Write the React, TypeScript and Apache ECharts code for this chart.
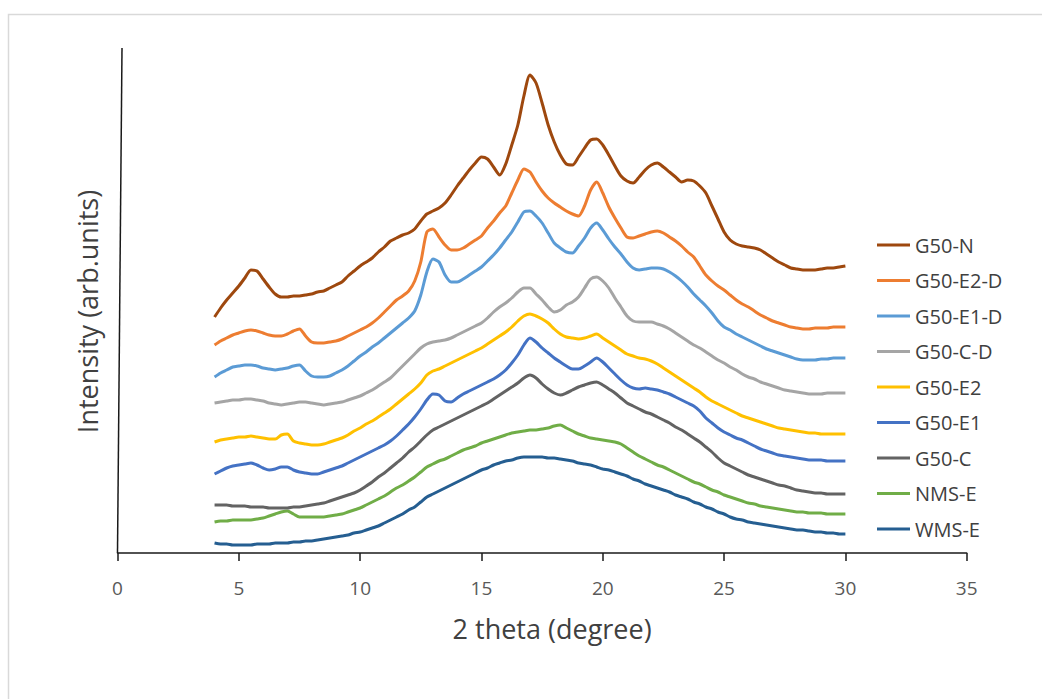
import React, { useEffect, useRef } from "react";
import * as echarts from "echarts";

// Diffraction angle (2θ, degrees) of every sample point
const twoTheta = [
  4, 4.25, 4.5, 4.75, 5, 5.25, 5.5, 5.75, 6, 6.25, 6.5, 6.75, 7, 7.25, 7.5, 7.75,
  8, 8.25, 8.5, 8.75, 9, 9.25, 9.5, 9.75, 10, 10.25, 10.5, 10.75, 11, 11.25, 11.5, 11.75,
  12, 12.25, 12.5, 12.75, 13, 13.25, 13.5, 13.75, 14, 14.25, 14.5, 14.75, 15, 15.25, 15.5, 15.75,
  16, 16.25, 16.5, 16.75, 17, 17.25, 17.5, 17.75, 18, 18.25, 18.5, 18.75, 19, 19.25, 19.5, 19.75,
  20, 20.25, 20.5, 20.75, 21, 21.25, 21.5, 21.75, 22, 22.25, 22.5, 22.75, 23, 23.25, 23.5, 23.75,
  24, 24.25, 24.5, 24.75, 25, 25.25, 25.5, 25.75, 26, 26.25, 26.5, 26.75, 27, 27.25, 27.5, 27.75,
  28, 28.25, 28.5, 28.75, 29, 29.25, 29.5, 29.75, 30,
];

// Stacked (offset) intensities, arbitrary units
const g50N = [
  236, 245, 253, 260, 267, 275, 283, 282, 274, 266, 259, 256, 256, 257, 257, 258,
  259, 261, 262, 265, 268, 271, 277, 282, 287, 291, 295, 301, 306, 312, 315, 318,
  320, 324, 332, 339, 342, 345, 350, 358, 367, 375, 383, 390, 396, 394, 386, 378,
  389, 408, 428, 457, 478, 470, 450, 428, 411, 398, 389, 388, 396, 405, 413, 414,
  408, 398, 387, 377, 372, 370, 376, 383, 388, 390, 386, 381, 376, 371, 373, 372,
  367, 360, 347, 334, 321, 313, 309, 307, 306, 305, 303, 299, 295, 291, 288, 285,
  284, 283, 283, 283, 284, 285, 285, 286, 287,
];
const g50E2D = [
  208, 212, 215, 218, 220, 222, 223, 222, 220, 218, 217, 217, 219, 222, 224, 217,
  211, 210, 210, 211, 212, 214, 217, 220, 223, 226, 230, 235, 241, 247, 253, 257,
  262, 272, 291, 321, 324, 316, 308, 303, 303, 305, 309, 313, 317, 325, 332, 340,
  347, 360, 373, 384, 381, 371, 362, 355, 350, 346, 342, 339, 337, 347, 363, 371,
  360, 346, 335, 325, 316, 315, 317, 319, 321, 322, 320, 316, 312, 307, 301, 296,
  287, 278, 272, 267, 263, 258, 253, 249, 246, 242, 238, 235, 232, 230, 228, 226,
  225, 224, 224, 225, 225, 225, 226, 226, 226,
];
const g50E1D = [
  176, 180, 183, 186, 187, 188, 188, 187, 185, 184, 183, 184, 185, 187, 188, 182,
  177, 176, 176, 177, 180, 183, 187, 192, 197, 201, 206, 210, 215, 220, 225, 230,
  235, 242, 258, 281, 294, 291, 278, 271, 271, 274, 278, 282, 286, 292, 298, 305,
  313, 321, 331, 341, 342, 337, 330, 320, 310, 305, 301, 300, 307, 315, 325, 330,
  323, 314, 306, 299, 291, 285, 283, 284, 285, 285, 284, 281, 277, 272, 266, 259,
  253, 247, 240, 232, 226, 223, 219, 216, 213, 210, 207, 204, 202, 200, 198, 196,
  194, 193, 193, 193, 194, 194, 195, 195, 195,
];
const g50CD = [
  150, 151, 152, 153, 153, 154, 154, 153, 152, 150, 149, 148, 149, 150, 151, 151,
  150, 149, 148, 149, 150, 151, 153, 155, 157, 160, 163, 167, 171, 175, 181, 187,
  193, 199, 205, 209, 211, 212, 213, 215, 218, 221, 224, 227, 230, 235, 241, 246,
  250, 255, 261, 265, 265, 259, 253, 246, 241, 243, 248, 251, 256, 265, 274, 276,
  272, 265, 255, 246, 237, 232, 231, 231, 231, 229, 227, 224, 220, 216, 212, 208,
  205, 201, 197, 193, 190, 186, 183, 179, 176, 174, 171, 169, 167, 165, 163, 162,
  161, 160, 159, 159, 159, 160, 160, 160, 160,
];
const g50E2 = [
  111, 113, 114, 115, 116, 116, 117, 116, 115, 114, 114, 118, 119, 112, 110, 109,
  108, 108, 109, 111, 113, 115, 118, 122, 125, 129, 132, 136, 140, 144, 149, 154,
  159, 164, 170, 178, 182, 184, 187, 190, 193, 196, 199, 202, 205, 209, 213, 217,
  221, 226, 232, 237, 239, 237, 234, 230, 224, 219, 216, 215, 214, 215, 217, 219,
  215, 211, 207, 203, 199, 197, 195, 194, 192, 189, 185, 181, 177, 173, 169, 165,
  161, 156, 152, 149, 146, 143, 140, 137, 135, 133, 131, 129, 127, 125, 124, 123,
  122, 121, 120, 120, 119, 119, 119, 119, 119,
];
const g50E1 = [
  79, 82, 85, 87, 88, 89, 90, 88, 85, 83, 84, 86, 86, 83, 81, 80,
  79, 79, 81, 83, 85, 87, 90, 93, 96, 99, 102, 105, 108, 112, 117, 123,
  129, 136, 144, 153, 159, 158, 152, 151, 155, 159, 162, 165, 168, 171, 174, 178,
  183, 190, 198, 208, 215, 211, 205, 200, 195, 191, 187, 184, 184, 187, 191, 195,
  191, 185, 179, 173, 168, 165, 164, 165, 164, 163, 161, 159, 156, 153, 150, 147,
  142, 135, 130, 125, 121, 118, 115, 113, 110, 107, 104, 102, 100, 98, 97, 96,
  95, 94, 93, 93, 93, 92, 92, 92, 92,
];
const g50C = [
  48, 48, 48, 47, 47, 47, 46, 46, 46, 45, 45, 45, 45, 46, 46, 47,
  48, 49, 50, 52, 54, 56, 58, 60, 63, 67, 71, 76, 80, 85, 90, 95,
  101, 106, 112, 118, 123, 126, 129, 132, 135, 138, 141, 144, 147, 150, 154, 158,
  162, 166, 170, 175, 178, 175, 169, 164, 160, 158, 160, 163, 166, 168, 170, 171,
  168, 164, 160, 155, 150, 147, 144, 141, 139, 136, 133, 130, 126, 123, 119, 115,
  111, 106, 101, 95, 90, 87, 84, 81, 78, 76, 74, 72, 70, 68, 67, 65,
  63, 62, 61, 60, 60, 59, 59, 59, 59,
];
const nmsE = [
  31, 32, 32, 33, 33, 33, 33, 34, 35, 37, 39, 41, 42, 39, 36, 36,
  36, 36, 36, 37, 38, 39, 41, 43, 45, 48, 51, 54, 57, 61, 65, 68,
  72, 76, 81, 86, 89, 92, 94, 97, 100, 103, 105, 107, 110, 112, 114, 116,
  118, 120, 121, 122, 123, 123, 124, 125, 127, 128, 125, 122, 119, 117, 115, 114,
  113, 112, 111, 109, 105, 101, 97, 94, 91, 88, 86, 83, 80, 77, 74, 71,
  69, 66, 63, 61, 58, 56, 54, 52, 50, 49, 47, 46, 45, 44, 43, 42,
  41, 41, 40, 40, 40, 39, 39, 39, 39,
];
const wmsE = [
  10, 9, 9, 8, 8, 8, 8, 9, 9, 9, 10, 10, 10, 11, 11, 12,
  12, 13, 14, 15, 16, 17, 18, 20, 21, 23, 25, 27, 30, 33, 36, 39,
  43, 46, 51, 56, 59, 62, 65, 68, 71, 74, 77, 80, 83, 85, 88, 90,
  92, 93, 95, 96, 96, 96, 96, 95, 95, 94, 93, 92, 90, 89, 88, 86,
  84, 83, 81, 79, 77, 74, 72, 69, 67, 65, 63, 61, 58, 56, 54, 51,
  49, 46, 44, 41, 39, 36, 34, 33, 31, 30, 29, 28, 27, 26, 25, 24,
  23, 23, 22, 21, 21, 20, 20, 19, 19,
];

const legendOrder = [
  "G50-N", "G50-E2-D", "G50-E1-D", "G50-C-D", "G50-E2", "G50-E1", "G50-C", "NMS-E", "WMS-E",
];
const seriesValues = [g50N, g50E2D, g50E1D, g50CD, g50E2, g50E1, g50C, nmsE, wmsE];
const seriesColors = [
  "#9E480E", "#ED7D31", "#5B9BD5", "#A5A5A5", "#FFC000", "#4472C4", "#636363", "#70AD47", "#255E91",
];

const xTicks = { min: 0, max: 35, interval: 5 };

const FONT = "'Open Sans', 'Noto Sans', sans-serif";

export default function App() {
  const ref = useRef<HTMLDivElement>(null);

  useEffect(() => {
    if (!ref.current) return;
    const chart = echarts.init(ref.current, null, { renderer: "svg" });

    const series = legendOrder
      .map((name, i) => ({
        name,
        type: "line",
        data: twoTheta.map((t, k) => [t, seriesValues[i][k]]),
        showSymbol: false,
        symbol: "none",
        smooth: 0.25,
        lineStyle: { color: seriesColors[i], width: 3 },
        itemStyle: { color: seriesColors[i] },
        z: 2,
      }))
      .reverse();

    chart.setOption({
      animation: false,
      backgroundColor: "#ffffff",
      textStyle: { fontFamily: FONT },
      grid: { left: 117.5, right: 75.3, top: 48, bottom: 146, containLabel: false },
      xAxis: {
        type: "value",
        min: xTicks.min,
        max: xTicks.max,
        interval: xTicks.interval,
        name: "2 theta (degree)",
        nameLocation: "middle",
        nameGap: 62,
        nameTextStyle: {
          fontSize: 27,
          color: "#404040",
          fontFamily: FONT,
          padding: [0, 0, 0, 20],
        },
        axisLine: { show: true, lineStyle: { color: "#1a1a1a", width: 1.5 } },
        axisTick: { show: true, inside: false, length: 8, lineStyle: { color: "#1a1a1a", width: 1.5 } },
        axisLabel: { fontSize: 19, color: "#595959", margin: 25, fontFamily: FONT },
        splitLine: { show: false },
      },
      yAxis: {
        type: "value",
        min: 0,
        max: 505,
        name: "Intensity (arb.units)",
        nameLocation: "middle",
        nameGap: 17,
        nameRotate: 90,
        nameTextStyle: {
          fontSize: 27,
          color: "#404040",
          fontFamily: FONT,
          padding: [0, 22, 0, 0],
        },
        axisLine: { show: false },
        axisTick: { show: false },
        axisLabel: { show: false },
        splitLine: { show: false },
      },
      legend: {
        data: legendOrder,
        orient: "vertical",
        left: 872,
        top: 230,
        icon: "rect",
        itemWidth: 33,
        itemHeight: 3,
        itemGap: 15.5,
        textStyle: { fontSize: 20, color: "#404040", lineHeight: 20, fontFamily: FONT },
        selectedMode: false,
      },
      graphic: [
        {
          type: "rect",
          shape: { x: 8.5, y: 14.5, width: 1200, height: 900 },
          style: { fill: "none", stroke: "#d9d9d9", lineWidth: 1.5 },
          silent: true,
          z: -1,
        },
        {
          type: "line",
          shape: { x1: 122, y1: 48, x2: 117.5, y2: 553 },
          style: { stroke: "#1a1a1a", lineWidth: 1.5 },
          silent: true,
        },
      ],
      series,
    });

    return () => chart.dispose();
  }, []);

  return (
    <div
      ref={ref}
      style={{ position: "fixed", left: 0, top: 0, width: 1042, height: 699, background: "#fff" }}
    />
  );
}
